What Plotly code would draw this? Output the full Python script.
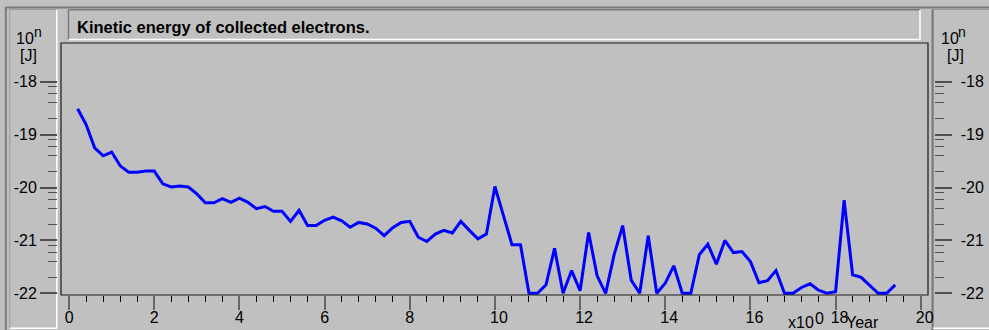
import plotly.graph_objects as go

# ---------------- data ----------------
year_x100 = [0.2, 0.4, 0.6, 0.8, 1.0, 1.2, 1.4, 1.6, 1.8, 2.0,
             2.2, 2.4, 2.6, 2.8, 3.0, 3.2, 3.4, 3.6, 3.8, 4.0,
             4.2, 4.4, 4.6, 4.8, 5.0, 5.2, 5.4, 5.6, 5.8, 6.0,
             6.2, 6.4, 6.6, 6.8, 7.0, 7.2, 7.4, 7.6, 7.8, 8.0,
             8.2, 8.4, 8.6, 8.8, 9.0, 9.2, 9.4, 9.6, 9.8, 10.0,
             10.2, 10.4, 10.6, 10.8, 11.0, 11.2, 11.4, 11.6, 11.8, 12.0,
             12.2, 12.4, 12.6, 12.8, 13.0, 13.2, 13.4, 13.6, 13.8, 14.0,
             14.2, 14.4, 14.6, 14.8, 15.0, 15.2, 15.4, 15.6, 15.8, 16.0,
             16.2, 16.4, 16.6, 16.8, 17.0, 17.2, 17.4, 17.6, 17.8, 18.0,
             18.2, 18.4, 18.6, 18.8, 19.0, 19.2, 19.4]

# exponent n of the kinetic energy 10^n J
energy_exponent = [-18.51, -18.81, -19.25, -19.40, -19.33, -19.59, -19.71, -19.71, -19.69, -19.69,
                   -19.93, -19.99, -19.97, -19.99, -20.12, -20.29, -20.29, -20.21, -20.28, -20.20,
                   -20.28, -20.40, -20.36, -20.45, -20.45, -20.64, -20.43, -20.72, -20.72, -20.62,
                   -20.56, -20.63, -20.75, -20.66, -20.69, -20.77, -20.91, -20.76, -20.66, -20.64,
                   -20.94, -21.02, -20.88, -20.81, -20.86, -20.64, -20.81, -20.97, -20.88, -19.98,
                   -20.53, -21.08, -21.08, -22.00, -22.00, -21.84, -21.15, -22.00, -21.57, -21.95,
                   -20.85, -21.67, -22.00, -21.27, -20.72, -21.75, -22.00, -20.91, -22.00, -21.81,
                   -21.48, -22.00, -22.00, -21.27, -21.07, -21.45, -21.00, -21.23, -21.21, -21.40,
                   -21.80, -21.76, -21.57, -22.00, -22.00, -21.89, -21.82, -21.94, -22.00, -21.97,
                   -20.24, -21.65, -21.70, -21.86, -22.00, -22.00, -21.84]

energy_J = [10 ** e for e in energy_exponent]

x_tick_values = [0, 2, 4, 6, 8, 10, 12, 14, 16, 18, 20]
x_tick_labels = ["0", "2", "4", "6", "8", "10", "12", "14", "16", "18", "20"]
y_decades = [-22, -21, -20, -19, -18]
y_tick_labels = ["-22", "-21", "-20", "-19", "-18"]
minor_mantissas = [2, 4, 6, 8]

title_text = "Kinetic energy of collected electrons."

# ---------------- geometry helpers ----------------
W, H = 989, 330
def px(x):
    return x / W
def py(y):
    return 1 - y / H

BG = "#c0c0c0"
FONT = "Liberation Sans, Arial, sans-serif"
FS = 16

y_major_vals = [10.0 ** d for d in y_decades]
y_minor_vals = [m * 10.0 ** d for d in y_decades[:-1] for m in minor_mantissas]

single = [(v, t) for v, t in zip(x_tick_values, x_tick_labels) if len(t) == 1]
double = [(v, t) for v, t in zip(x_tick_values, x_tick_labels) if len(t) > 1]

fig = go.Figure()
fig.add_trace(go.Scatter(x=year_x100, y=energy_J, mode="lines",
                         line=dict(color="#0000ff", width=3),
                         xaxis="x", yaxis="y", showlegend=False, hoverinfo="x+y"))
# invisible companions so the overlay axes are drawn
fig.add_trace(go.Scatter(x=year_x100, y=energy_J, mode="lines", opacity=0,
                         xaxis="x2", yaxis="y", showlegend=False, hoverinfo="skip"))
fig.add_trace(go.Scatter(x=year_x100, y=energy_J, mode="lines", opacity=0,
                         xaxis="x", yaxis="y2", showlegend=False, hoverinfo="skip"))

xdom = [px(61), px(928)]
ydom = [py(295), py(43)]
xrange_ = [-0.19, 20.17]
yrange_ = [-22.032, -17.268]

fig.update_layout(
    width=W, height=H, autosize=False,
    margin=dict(l=0, r=0, t=0, b=0, pad=0),
    paper_bgcolor=BG, plot_bgcolor=BG,
    font=dict(family=FONT, size=FS, color="black"),
    showlegend=False,
    xaxis=dict(domain=xdom, range=xrange_, anchor="y", showgrid=False, zeroline=False,
               showline=False, automargin=False,
               tickmode="array", tickvals=[v for v, _ in single] + [v for v, _ in double],
               ticktext=[t for _, t in single] + ["" for _ in double],
               ticks="outside", ticklen=14, tickwidth=1.5, tickcolor="#666666",
               minor=dict(tick0=0, dtick=0.4, ticks="outside", ticklen=6,
                          tickwidth=1, tickcolor="#000000", showgrid=False),
               tickfont=dict(size=FS), ticklabelstandoff=-6),
    xaxis2=dict(domain=xdom, range=xrange_, overlaying="x", anchor="y", side="bottom",
                showgrid=False, zeroline=False, showline=False, automargin=False,
                tickmode="array", tickvals=[v for v, _ in double],
                ticktext=[t for _, t in double],
                ticks="outside", ticklen=14, tickcolor="rgba(0,0,0,0)",
                tickfont=dict(size=FS), ticklabelstandoff=-6, ticklabelshift=4),
    yaxis=dict(domain=ydom, type="log", range=yrange_, anchor="free", position=px(57),
               showgrid=False, zeroline=False, showline=False, automargin=False,
               tickmode="array", tickvals=y_major_vals, ticktext=y_tick_labels,
               ticks="outside", ticklen=17, tickwidth=1.5, tickcolor="#505050",
               minor=dict(tickmode="array", tickvals=y_minor_vals, ticks="outside",
                          ticklen=9, tickwidth=1, tickcolor="#505050", showgrid=False),
               tickfont=dict(size=FS), ticklabelstandoff=0),
    yaxis2=dict(domain=ydom, type="log", range=yrange_, overlaying="y", side="right",
                anchor="free", position=px(933.5), automargin=False,
                showgrid=False, zeroline=False, showline=False,
                tickmode="array", tickvals=y_major_vals, ticktext=y_tick_labels,
                ticks="outside", ticklen=17, tickwidth=1.5, tickcolor="#505050",
                minor=dict(tickmode="array", tickvals=y_minor_vals, ticks="outside",
                           ticklen=9, tickwidth=1, tickcolor="#505050", showgrid=False),
                tickfont=dict(size=FS), ticklabelstandoff=6),
)

# ---------------- panel chrome ----------------
def line(x0, y0, x1, y1, color, width=1):
    fig.add_shape(type="line", xref="paper", yref="paper",
                  x0=px(x0), y0=py(y0), x1=px(x1), y1=py(y1),
                  line=dict(color=color, width=width), layer="below")

DARK = "#7a7a7a"
MID = "#9a9a9a"
# outer frame
line(5, 7.5, 989, 7.5, DARK, 2)
line(5.8, 7.5, 5.8, 330, DARK, 2)
# left panel
line(9.8, 9.5, 56.5, 9.5, MID, 1)
line(9.8, 9.5, 9.8, 328, MID, 1)
line(56.8, 10, 56.8, 328.5, "#ffffff", 1.5)
line(9.8, 328.3, 57, 328.3, "#ffffff", 1.5)
# title box
line(68.5, 9.8, 920, 9.8, DARK, 1.5)
line(68.5, 9.8, 68.5, 40, DARK, 1.5)
line(920, 10, 920, 39.5, "#ffffff", 1.5)
line(68.5, 39.5, 920.5, 39.5, "#ffffff", 1.5)
# right panel
line(932.5, 9.5, 989, 9.5, MID, 1)
line(932.6, 9.5, 932.6, 330, DARK, 2.2)
line(933, 328.3, 989, 328.3, "#ffffff", 1.5)
# plot frame
fig.add_shape(type="rect", xref="x domain", yref="y domain", x0=0, x1=1, y0=0, y1=1,
              line=dict(color="#1a1a1a", width=1.2), layer="above")

# ---------------- texts ----------------
def text(s, x, y, size=FS, anchor="center"):
    fig.add_annotation(text=s, xref="paper", yref="paper", x=px(x), y=py(y),
                       xanchor=anchor, yanchor="middle", showarrow=False,
                       font=dict(family=FONT, size=size, color="black"))

fig.add_annotation(text="<b>" + title_text + "</b>", xref="paper", yref="paper",
                   x=px(75), y=py(26.5), xanchor="left", yanchor="middle",
                   showarrow=False, font=dict(family=FONT, size=16.5, color="black"))
for cx, ncx, jcx in [(24.5, 38.3, 28), (949.8, 962.3, 955)]:
    text("10", cx, 38.5)
    text("n", ncx, 32, size=14)
    text("[J]", jcx, 56)
text("x10", 800.5, 322.5)
text("0", 819.5, 318.5)
text("Year", 862, 322.5)

fig.write_html("out.html", config={"displayModeBar": False},
               post_script="document.body.style.margin='0';document.body.style.padding='0';"
                           "document.body.style.overflow='hidden';")
